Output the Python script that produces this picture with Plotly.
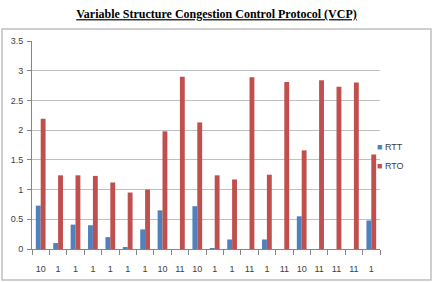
import plotly.graph_objects as go

categories = ["10", "1", "1", "1", "1", "1", "1", "10", "11", "10",
              "1", "1", "11", "1", "11", "10", "11", "11", "11", "1"]
rtt = [0.73, 0.10, 0.41, 0.40, 0.20, 0.03, 0.33, 0.65, 0.0, 0.72,
       0.01, 0.16, 0.0, 0.16, 0.0, 0.55, 0.0, 0.0, 0.0, 0.48]
rto = [2.19, 1.24, 1.24, 1.23, 1.12, 0.95, 1.00, 1.98, 2.90, 2.13,
       1.24, 1.17, 2.89, 1.25, 2.81, 1.66, 2.84, 2.73, 2.80, 1.59]
series_names = ["RTT", "RTO"]
series_colors = ["#4F81BD", "#C0504D"]
yticks = [0, 0.5, 1, 1.5, 2, 2.5, 3, 3.5]
ytick_text = ["0", "0.5", "1", "1.5", "2", "2.5", "3", "3.5"]

xpos = list(range(len(categories)))

fig = go.Figure()
for name, vals, col in zip(series_names, [rtt, rto], series_colors):
    fig.add_trace(go.Bar(x=xpos, y=vals, name=name, marker_color=col,
                         marker_line_width=0, showlegend=False, legendgroup=name))
# legend entries with small Excel-style square keys
for name, col in zip(series_names, series_colors):
    fig.add_trace(go.Scatter(x=[None], y=[None], mode="markers",
                             marker=dict(size=1, opacity=0), legendgroup=name,
                             name=f"<span style='color:{col}'>■</span> {name}",
                             showlegend=True))

W, H = 433, 282
L, R, T, B = 32, 53, 41, 33
pw, ph = W - L - R, H - T - B

def px_x(p):
    return (p - L) / pw

def px_y(p):
    return (H - B - p) / ph

fig.update_layout(
    width=W, height=H,
    margin=dict(l=L, r=R, t=T, b=B, autoexpand=False),
    paper_bgcolor="white", plot_bgcolor="white",
    barmode="group", bargap=0.44, bargroupgap=0.0,
    font=dict(family="Liberation Sans, Arial, sans-serif", size=9, color="#404040"),
    title=dict(text="<u><b>Variable Structure Congestion Control Protocol (VCP)</b></u>",
               x=0.5, xref="container", xanchor="center",
               y=1 - 14 / H, yref="container", yanchor="middle",
               font=dict(family="Liberation Serif, Times New Roman, serif", size=12, color="#000000")),
    legend=dict(x=px_x(337), y=px_y(156), xanchor="left", yanchor="middle",
                font=dict(size=9, color="#404040"), bgcolor="rgba(0,0,0,0)",
                itemwidth=30, tracegroupgap=0),
    xaxis=dict(range=[-0.5, len(categories) - 0.5], tickmode="array", tickvals=xpos,
               ticktext=categories, ticks="", showgrid=False, zeroline=False,
               showline=True, linecolor="#868686", linewidth=1,
               ticklabelstandoff=11,
               minor=dict(tickmode="array", tickvals=[i - 0.5 for i in range(len(categories) + 1)],
                          ticks="outside", ticklen=5, tickcolor="#868686", showgrid=False),
               fixedrange=True),
    yaxis=dict(range=[0, 3.5], tickmode="array", tickvals=yticks, ticktext=ytick_text,
               ticks="outside", ticklen=4, tickcolor="#868686",
               showgrid=True, gridcolor="#C0C0C0", gridwidth=1, zeroline=False,
               showline=True, linecolor="#868686", linewidth=1,
               ticklabelstandoff=2),
    shapes=[dict(type="rect", xref="paper", yref="paper",
                 x0=px_x(2), x1=px_x(431), y0=px_y(280), y1=px_y(29),
                 line=dict(color="#BFBFBF", width=1.5), layer="below")],
)

fig.write_html("out.html")
